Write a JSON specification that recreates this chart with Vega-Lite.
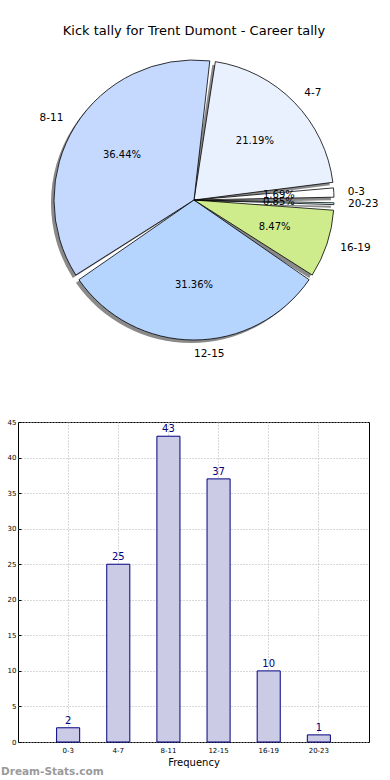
{
  "$schema": "https://vega.github.io/schema/vega-lite/v6.json",
  "padding": {"left": 0, "top": 25, "right": 0, "bottom": 0},
  "background": "white",
  "config": {"font": "DejaVu Sans"},
  "datasets": {
    "kicks": [
      {"cat": "0-3", "i": 0, "n": 2, "pct": "1.69%"},
      {"cat": "4-7", "i": 1, "n": 25, "pct": "21.19%"},
      {"cat": "8-11", "i": 2, "n": 43, "pct": "36.44%"},
      {"cat": "12-15", "i": 3, "n": 37, "pct": "31.36%"},
      {"cat": "16-19", "i": 4, "n": 10, "pct": "8.47%"},
      {"cat": "20-23", "i": 5, "n": 1, "pct": "0.85%"}
    ]
  },
  "spacing": 57,
  "vconcat": [
    {
      "width": 352,
      "height": 316,
      "title": {"text": "Kick tally for Trent Dumont - Career tally", "fontSize": 13, "fontWeight": "normal", "anchor": "middle", "offset": 4, "color": "black"},
      "view": {"stroke": null},
      "data": {"name": "kicks"},
      "encoding": {
        "theta": {"field": "n", "type": "quantitative", "stack": true, "scale": {"range": [1.5708, -4.7124]}},
        "order": {"field": "i", "type": "quantitative"}
      },
      "layer": [
        {"mark": {"type": "arc", "outerRadius": 140, "padAngle": 0.04, "fill": "#8a8a8a", "xOffset": -3, "yOffset": 3}},
        {
          "mark": {"type": "arc", "outerRadius": 140, "padAngle": 0.04, "stroke": "black", "strokeWidth": 0.8},
          "encoding": {
            "color": {"field": "cat", "type": "nominal", "legend": null,
              "scale": {"domain": ["0-3", "4-7", "8-11", "12-15", "16-19", "20-23"],
                        "range": ["#ffffff", "#eaf1fe", "#c5d9fe", "#b5d5fe", "#ceec8c", "#d5f8fd"]}}
          }
        },
        {"mark": {"type": "text", "radius": 85, "fontSize": 10, "color": "black"}, "encoding": {"text": {"field": "pct", "type": "nominal"}}},
        {
          "mark": {"type": "text", "radius": 154, "fontSize": 10.5, "align": "left", "baseline": "middle", "color": "black"},
          "encoding": {"text": {"condition": {"test": "datum.cat !== '8-11'", "field": "cat", "type": "nominal"}, "value": ""}}
        },
        {
          "mark": {"type": "text", "radius": 154, "fontSize": 10.5, "align": "right", "baseline": "middle", "color": "black"},
          "encoding": {"text": {"condition": {"test": "datum.cat === '8-11'", "field": "cat", "type": "nominal"}, "value": ""}}
        }
      ]
    },
    {
      "width": 351,
      "height": 320,
      "data": {"name": "kicks"},
      "view": {"stroke": "black", "strokeWidth": 1},
      "title": {"text": "Dream-Stats.com", "orient": "bottom", "anchor": "start", "frame": "bounds", "fontSize": 10.5, "fontWeight": "bold", "color": "#9a9a9a", "offset": 0},
      "encoding": {
        "x": {
          "field": "cat", "type": "nominal",
          "sort": ["0-3", "4-7", "8-11", "12-15", "16-19", "20-23"],
          "scale": {"paddingInner": 0.54, "paddingOuter": 0.77},
          "axis": {"labelAngle": 0, "title": "Frequency", "labelFontSize": 7, "titleFontSize": 10, "titleFontWeight": "normal", "titleColor": "black", "labelColor": "black",
                   "grid": true, "gridDash": [1, 2], "gridColor": "#b0b0b0", "bandPosition": 0.5,
                   "tickSize": -3, "tickColor": "black", "domain": false, "labelPadding": 7, "titlePadding": 4}
        },
        "y": {
          "field": "n", "type": "quantitative",
          "scale": {"domain": [0, 45], "nice": false},
          "axis": {"values": [0, 5, 10, 15, 20, 25, 30, 35, 40, 45], "title": null, "labelFontSize": 7, "labelColor": "black",
                   "grid": true, "gridDash": [1, 2], "gridColor": "#b0b0b0", "minExtent": 17,
                   "tickSize": -3, "tickColor": "black", "domain": false, "labelPadding": 5}
        }
      },
      "layer": [
        {"mark": {"type": "bar", "fill": "#cbcbe5", "stroke": "#000080", "strokeWidth": 1}},
        {"mark": {"type": "text", "baseline": "bottom", "dy": -2, "fontSize": 10, "color": "#000080"}, "encoding": {"text": {"field": "n", "type": "quantitative"}}}
      ]
    }
  ]
}
